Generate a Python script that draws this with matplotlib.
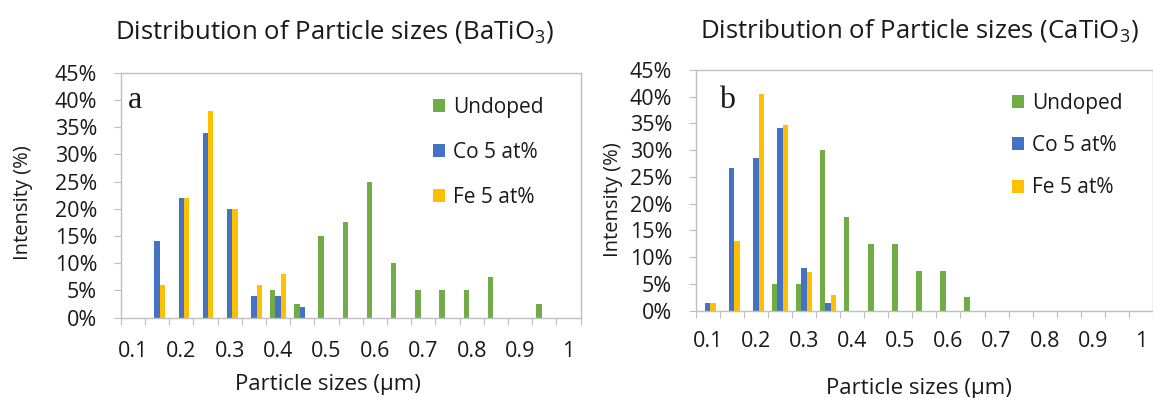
"""Particle size distributions for BaTiO3 and CaTiO3 (undoped, Co, Fe)."""
import numpy as np
import matplotlib
matplotlib.use("Agg")
import matplotlib.pyplot as plt
from matplotlib.ticker import PercentFormatter

plt.rcParams["font.family"] = ["Open Sans", "DejaVu Sans"]
plt.rcParams["mathtext.fontset"] = "custom"
plt.rcParams["mathtext.rm"] = "Open Sans"
plt.rcParams["mathtext.it"] = "Open Sans:italic"

# category axis: particle size in um
sizes = [0.1, 0.15, 0.2, 0.25, 0.3, 0.35, 0.4, 0.45, 0.5, 0.55,
         0.6, 0.65, 0.7, 0.75, 0.8, 0.85, 0.9, 0.95, 1.0]
series_names = ["Undoped", "Co 5 at%", "Fe 5 at%"]

# intensity (%) - BaTiO3
bt_undoped = [0, 0, 0, 0, 0, 0, 5, 2.5, 15, 17.5, 25, 10, 5, 5, 5, 7.5, 0, 2.5, 0]
bt_co = [0, 14, 22, 34, 20, 4, 4, 2, 0, 0, 0, 0, 0, 0, 0, 0, 0, 0, 0]
bt_fe = [0, 6, 22, 38, 20, 6, 8, 0, 0, 0, 0, 0, 0, 0, 0, 0, 0, 0, 0]

# intensity (%) - CaTiO3
ct_undoped = [0, 0, 0, 5, 5, 30, 17.5, 12.5, 12.5, 7.5, 7.5, 2.5, 0, 0, 0, 0, 0, 0, 0]
ct_co = [1.4, 26.7, 28.6, 34.1, 8, 1.4, 0, 0, 0, 0, 0, 0, 0, 0, 0, 0, 0, 0, 0]
ct_fe = [1.4, 13, 40.6, 34.7, 7.2, 2.9, 0, 0, 0, 0, 0, 0, 0, 0, 0, 0, 0, 0, 0]

colors = ["#70AD47", "#4472C4", "#FFC000"]
axis_grey = "#BFBFBF"
text_col = "#1a1a1a"


def draw_panel(ax, series, title, letter, title_xy, letter_pos, legend_anchor,
               label_spacing, xlabel_pos, ylabel_pos, xtick_pad):
    x = np.arange(len(sizes))
    w = 0.222
    for i, (vals, name, col) in enumerate(zip(series, series_names, colors)):
        ax.bar(x + (i - 1) * w, vals, width=w, color=col, linewidth=0,
               label=name)

    ax.set_xlim(-0.5, len(sizes) - 0.5)
    ax.set_ylim(0, 45)
    ax.set_yticks(np.arange(0, 46, 5))
    ax.yaxis.set_major_formatter(PercentFormatter(100, decimals=0))

    # tick marks on category boundaries, labels on every other category
    ax.set_xticks(np.arange(-0.5, len(sizes), 1.0))
    ax.set_xticklabels([])
    ax.set_xticks(x[::2], minor=True)
    ax.set_xticklabels([f"{s:g}" for s in sizes[::2]], minor=True)
    ax.tick_params(axis="x", which="major", length=5, color=axis_grey)
    ax.tick_params(axis="x", which="minor", length=0, pad=xtick_pad,
                   labelsize=15.5, labelcolor=text_col)
    ax.tick_params(axis="y", length=5, color=axis_grey, pad=12,
                   labelsize=15.5, labelcolor=text_col)

    for sp in ax.spines.values():
        sp.set_color(axis_grey)
        sp.set_linewidth(1.0)

    ax.set_title(title, fontsize=18.5, color=text_col,
                 x=title_xy[0], y=title_xy[1], pad=0)
    ax.text(letter_pos[0], letter_pos[1], letter, transform=ax.transAxes,
            fontsize=23, family="Liberation Serif", color=text_col)

    ax.legend(loc="upper left", bbox_to_anchor=legend_anchor, frameon=False,
              fontsize=15, handlelength=0.58, handleheight=0.58,
              handletextpad=0.4, labelspacing=label_spacing,
              borderpad=0, borderaxespad=0, labelcolor=text_col)

    ax.set_xlabel("Particle sizes (\u00b5m)", fontsize=16, color=text_col)
    ax.xaxis.set_label_coords(*xlabel_pos)
    ax.set_ylabel("Intensity (%)", fontsize=14.5, color=text_col)
    ax.yaxis.set_label_coords(*ylabel_pos)


fig = plt.figure(figsize=(11.53, 3.98), dpi=100)
ax_a = fig.add_axes([0.1047, 0.2018, 0.3988, 0.6155])
ax_b = fig.add_axes([0.6034, 0.2193, 0.3966, 0.6048])

draw_panel(ax_a, [bt_undoped, bt_co, bt_fe],
           "Distribution of Particle sizes (BaTiO$_3$)", "a",
           title_xy=(0.464, 1.14), letter_pos=(0.016, 0.856),
           legend_anchor=(0.679, 0.901), label_spacing=1.15,
           xlabel_pos=(0.451, -0.23), ylabel_pos=(-0.191, 0.468),
           xtick_pad=16.5)
draw_panel(ax_b, [ct_undoped, ct_co, ct_fe],
           "Distribution of Particle sizes (CaTiO$_3$)", "b",
           title_xy=(0.49, 1.134), letter_pos=(0.051, 0.842),
           legend_anchor=(0.691, 0.905), label_spacing=1.02,
           xlabel_pos=(0.489, -0.28), ylabel_pos=(-0.159, 0.46),
           xtick_pad=14.5)

fig.savefig("out.png", dpi=100)
